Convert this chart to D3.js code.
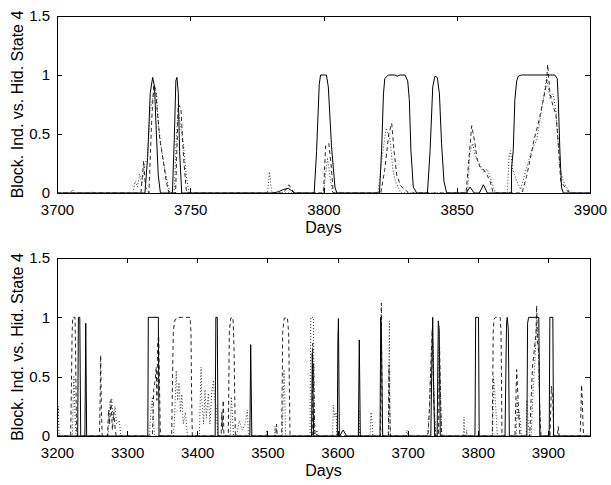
<!DOCTYPE html>
<html>
<head>
<meta charset="utf-8">
<script src="https://cdnjs.cloudflare.com/ajax/libs/d3/7.8.5/d3.min.js"></script>
<style>
  body { margin: 0; background: #fff; }
  text { font-family: "Liberation Sans", Arial, Helvetica, sans-serif; }
</style>
</head>
<body>
<div id="chart"></div>
<script>
// tick labels
var yTicks = [0, 0.5, 1, 1.5];
var topXTicks = [3700, 3750, 3800, 3850, 3900];
var botXTicks = [3200, 3300, 3400, 3500, 3600, 3700, 3800, 3900];

// top panel: days 3700-3900, [day, value]
var topSolid = [
  [3700,0],[3733,0],[3734,0.3],[3735,0.85],[3735.9,0.98],[3736.6,0.9],[3737.3,0.5],[3738,0.15],[3738.8,0],
  [3743.3,0],[3744,0.45],[3744.6,0.95],[3745,0.98],[3745.5,0.85],[3746,0.35],[3746.8,0],
  [3781,0],[3783,0.01],[3785,0.03],[3786.8,0.04],[3788,0.02],[3789,0],
  [3796.5,0],[3797.4,0.35],[3798.4,0.92],[3798.9,1],[3801.1,1],[3801.8,0.9],[3803,0.4],[3804.3,0.05],[3805,0],
  [3821,0],[3821.8,0.36],[3822.5,0.84],[3823,0.97],[3824.3,1],[3826.8,1],[3827.7,0.99],[3828.7,1],[3830.6,1],[3831.6,0.95],[3832.2,0.79],[3832.8,0.36],[3833.7,0.05],[3835,0],
  [3839,0],[3840,0.36],[3841,0.9],[3841.8,0.99],[3842.7,0.98],[3843.5,0.84],[3844.3,0.42],[3845.2,0.1],[3846.2,0],
  [3853.5,0],[3855,0.05],[3856.5,0],[3858.5,0],[3860,0.07],[3861.5,0],
  [3870.5,0],[3870.6,0.22],[3871.2,0.36],[3871.8,0.79],[3872.5,0.95],[3873.1,0.99],[3874.3,1],[3886.8,1],[3887.7,0.97],[3888.1,0.79],[3888.7,0.36],[3889.3,0.05],[3890,0],
  [3900,0]
];
var topDashed = [
  [3700,0],[3731.5,0],[3732.5,0.27],[3733.2,0.05],
  [3734.5,0],[3735.5,0.6],[3736.3,0.92],[3737,0.88],[3737.6,0.7],[3738.6,0.45],[3739.9,0.27],[3741,0.1],[3742,0],
  [3744.5,0],[3745.5,0.75],[3746.5,0.72],[3747.5,0.3],[3748.6,0],
  [3785,0],[3787,0.07],[3789,0],
  [3800,0],[3800.8,0.4],[3802,0.42],[3802.8,0.25],[3803.7,0],
  [3821.5,0],[3823,0.2],[3824.5,0.5],[3825.6,0.59],[3826.5,0.35],[3827.5,0.15],[3829,0.06],[3830.5,0.03],[3832,0],
  [3853.5,0],[3855.6,0.57],[3856.2,0.5],[3857,0.4],[3857.5,0.3],[3858.7,0.22],[3860,0.2],[3861.2,0.16],[3862.5,0.1],[3863.7,0],
  [3874.5,0],[3876.2,0.14],[3877.5,0.28],[3879,0.45],[3880.6,0.59],[3882.5,0.79],[3883.7,0.93],[3884.1,1.09],[3885,0.84],[3886.2,0.73],[3887.2,0.67],[3888,0.45],[3889,0.1],[3890.6,0.05],[3891.8,0.01],[3892.5,0.02],[3893.5,0],
  [3900,0]
];
var topDotted = [
  [3700,0],[3705,0],[3705.8,0.03],[3706.5,0],[3712,0],[3712.8,0.01],[3713.5,0],
  [3728.5,0],[3729.3,0.1],[3730.2,0.05],[3731,0.16],[3731.8,0.08],[3733,0.25],[3734,0.3],[3735,0.7],[3736.5,0.88],[3737.3,0.85],[3738,0.6],[3739,0.4],[3740.5,0.2],[3741.8,0.05],[3742.5,0],
  [3744,0],[3744.8,0.5],[3745.5,0.7],[3746.5,0.55],[3747.5,0.4],[3748.5,0.15],[3749.5,0],
  [3779,0],[3779.7,0.18],[3780.5,0.02],[3781,0],
  [3800,0],[3801.5,0.3],[3802.5,0.12],[3803.5,0],
  [3820.5,0],[3822,0.3],[3823.5,0.55],[3825,0.45],[3826,0.2],[3827,0.1],[3829,0],
  [3854,0],[3855,0.35],[3856,0.42],[3857,0.3],[3858.5,0.25],[3860,0.18],[3861.5,0.2],[3863,0.1],[3864.5,0],
  [3869,0],[3869.6,0.3],[3870.2,0.36],[3871,0.2],[3872.5,0.1],[3874,0.03],[3876,0.2],[3878,0.35],[3880,0.45],[3881.8,0.7],[3883.7,0.98],[3885,0.8],[3886.2,0.84],[3887.2,0.7],[3888.7,0.22],[3890,0.1],[3891.2,0.05],[3892.5,0],
  [3900,0]
];

// bottom panel: days 3200-3960
var botSolid = [
  [3200,0],[3229.5,0],[3230.5,1],[3232.5,1],[3233.8,0],
  [3239.8,0],[3241,0.95],[3242.3,0],
  [3329.5,0],[3330.2,1],[3344.5,1],[3345.5,0],
  [3425.5,0],[3426.5,1],[3428.5,1],[3429.6,0],
  [3475,0],[3476.2,0.77],[3477.8,0],
  [3563,0],[3564,0.7],[3565,0.4],[3566,0],
  [3599.7,0],[3600.5,0.81],[3601.3,0.99],[3602.6,0],[3603,0],[3608,0.05],[3613,0],
  [3629.7,0],[3631,0.81],[3632.5,0],
  [3660.6,0],[3661.6,1],[3662.5,0.9],[3663.5,0.4],[3664.4,0],
  [3733,0],[3734.5,0.6],[3735.7,1],[3737,0.4],[3738.5,0],
  [3742,0],[3743.7,0.97],[3745,0.9],[3746.5,0],
  [3796,0],[3797,1],[3801,1],[3802,0],
  [3838.8,0],[3841,0.95],[3842,1],[3843.5,0.9],[3845,0],
  [3870,0],[3871,0.95],[3872.5,1],[3887,1],[3888.5,0],
  [3901.8,0],[3902.8,1],[3907,1],[3908,0],
  [3960,0]
];
var botDashed = [
  [3200,0],[3219.5,0],[3220.5,0.4],[3221.5,0.85],[3222.4,1],[3225.7,1],[3226.5,0.7],[3227.5,0.2],[3228.5,0],
  [3260.5,0],[3261.5,0.3],[3262.3,0.68],[3263.3,0.2],[3264.5,0],
  [3272,0],[3273.5,0.22],[3275,0.1],[3277,0.3],[3279,0.05],[3281,0.2],[3283,0.05],[3284.5,0],
  [3336,0],[3338,0.4],[3340,0.47],[3341.5,0.58],[3342.5,0.3],[3343.5,0.78],[3345,0.85],[3346.5,0.3],[3347.5,0],
  [3363.5,0],[3365,0.58],[3365.9,0.89],[3368.3,0.98],[3373,1],[3389.7,1],[3391.1,0.87],[3392,0.3],[3393,0],
  [3434,0],[3435,0.2],[3436,0.05],[3437,0.3],[3438,0],
  [3444.3,0],[3445.7,0.87],[3447.5,0.99],[3451,1],[3452.5,0.72],[3454.3,0],
  [3512,0],[3513,0.1],[3514,0],
  [3520.4,0],[3521.8,0.87],[3523.7,0.99],[3528.5,1],[3530.3,0.87],[3532.3,0],
  [3564,0],[3564.5,0.78],[3565.2,0.39],[3566,0.61],[3567,0.2],[3568,0],
  [3661,0],[3662,0.7],[3662.5,1.12],[3663,0.6],[3664,0],
  [3672.5,0],[3673.4,0.6],[3674.5,0.2],[3675.5,0],
  [3729,0],[3731,0.22],[3733,0.58],[3735,0.9],[3736.5,0.5],[3738,0.2],[3739.5,0],
  [3744,0],[3745.5,0.75],[3747,0.3],[3748.5,0],
  [3820.7,0],[3822,0.87],[3823,0.98],[3825,1],[3832,1],[3833.2,0.86],[3834.5,0],
  [3853,0],[3855.4,0.56],[3857,0.36],[3858.5,0.19],[3860,0],
  [3874,0],[3876,0.3],[3878,0.58],[3880.5,0.72],[3883,0.87],[3884,1.1],[3885,0.8],[3887,0.7],[3888.5,0.2],[3890,0],
  [3903,0],[3905,0.42],[3907,0.3],[3908.5,0],
  [3913.5,0],[3914.8,0.08],[3916,0],
  [3946,0],[3947,0.2],[3948,0.43],[3949,0.3],[3950,0.1],[3951,0],
  [3960,0]
];
var botDotted = [
  [3200,0],[3201,0],[3202,0.25],[3203,0],
  [3222,0],[3223,0.3],[3224,0.5],[3225,0.3],[3226,0.13],[3227,0],
  [3273,0],[3275.6,0.3],[3278,0.32],[3280,0.15],[3282.7,0.25],[3285,0.1],[3288.9,0.13],[3291,0],
  [3332,0],[3333.5,0.19],[3336,0.33],[3338,0.1],[3339,0],
  [3366,0],[3368,0.2],[3370,0.55],[3372,0.3],[3374,0.45],[3376,0.2],[3378,0.35],[3380,0.1],[3383,0.2],[3386,0],
  [3403,0],[3405.4,0.58],[3406.5,0.3],[3409,0.1],[3411,0.39],[3413,0.15],[3415.8,0.36],[3418,0.1],[3420.6,0.36],[3423,0.47],[3425,0.3],[3427.7,0.22],[3429,0],
  [3447,0],[3448.5,0.33],[3450,0.2],[3451.5,0],
  [3456,0],[3460,0.13],[3464,0.05],[3468,0.1],[3471.4,0.22],[3473,0],
  [3498,0],[3499,0.05],[3500,0],[3510,0],[3511,0.08],[3512,0],
  [3521,0],[3523.7,0.56],[3525,0.3],[3526,0],
  [3560.8,0],[3561.8,1],[3565.6,1],[3567,0],[3570,0],[3570.5,0.05],[3571,0],
  [3593,0],[3594,0.26],[3596,0.16],[3598,0.2],[3599,0],
  [3630,0],[3630.6,0.22],[3631.5,0],
  [3646.5,0],[3647.7,0.2],[3649.6,0.1],[3650.5,0],
  [3672.5,0],[3673.9,0.97],[3675,0],
  [3698,0],[3699,0.05],[3700,0],
  [3728,0],[3729.5,0.08],[3731,0.22],[3732.5,0.5],[3734,0.75],[3736,0.8],[3738,0.3],[3740,0],
  [3742.5,0],[3744.5,0.9],[3746,0.5],[3748,0.1],[3749,0],
  [3779.5,0],[3780.3,0.16],[3781.5,0],[3783.5,0],[3784,0.05],[3785,0],
  [3821,0],[3822.5,0.5],[3824,0.4],[3826,0.2],[3828,0],
  [3855,0],[3856,0.3],[3857.5,0.15],[3859,0.2],[3861,0.1],[3862,0],
  [3869,0],[3870,0.3],[3872,0.1],[3874,0],
  [3876,0],[3879,0.4],[3882,0.7],[3884,0.95],[3886,0.8],[3888,0.3],[3890,0],
  [3960,0]
];

var svg = d3.select("#chart")
  .append("svg")
    .attr("width", 611)
    .attr("height", 485);

var panels = [
  {id: "top", left: 57, right: 590, top: 16, bottom: 193, xDomain: [3700, 3900], xTicks: topXTicks,
   series: [topSolid, topDashed, topDotted]},
  {id: "bot", left: 57, right: 590, top: 258, bottom: 436, xDomain: [3200, 3960], xTicks: botXTicks,
   series: [botSolid, botDashed, botDotted]}
];

var styles = [
  {dash: null, width: 1, color: "#000"},
  {dash: "4,3", width: 0.9, color: "#111"},
  {dash: "1,2", width: 0.9, color: "#222"}
];

panels.forEach(function(p) {
  var x = d3.scaleLinear().domain(p.xDomain).range([p.left, p.right]);
  var y = d3.scaleLinear().domain([0, 1.5]).range([p.bottom, p.top]);
  var g = svg.append("g");

  g.append("clipPath").attr("id", "clip-" + p.id)
    .append("rect")
      .attr("x", p.left).attr("y", p.top - 10)
      .attr("width", p.right - p.left).attr("height", p.bottom - p.top + 10);

  var line = d3.line()
    .x(function(d) { return x(d[0]); })
    .y(function(d) { return y(d[1]); });

  g.append("g").attr("clip-path", "url(#clip-" + p.id + ")")
    .selectAll("path")
    .data(p.series)
    .enter().append("path")
      .attr("d", line)
      .attr("fill", "none")
      .attr("stroke", function(d, i) { return styles[i].color; })
      .attr("stroke-width", function(d, i) { return styles[i].width; })
      .attr("stroke-dasharray", function(d, i) { return styles[i].dash; });

  // axes, matlab style (ticks inside, box)
  g.append("g")
    .attr("transform", "translate(0," + p.bottom + ")")
    .call(d3.axisBottom(x).tickValues(p.xTicks).tickSize(-5).tickSizeOuter(0).tickPadding(11).tickFormat(d3.format("d")));
  g.append("g")
    .attr("transform", "translate(0," + p.top + ")")
    .call(d3.axisTop(x).tickValues(p.xTicks).tickSize(-5).tickSizeOuter(0).tickFormat(""));
  g.append("g")
    .attr("transform", "translate(" + p.left + ",0)")
    .call(d3.axisLeft(y).tickValues(yTicks).tickSize(-5).tickSizeOuter(0).tickPadding(7).tickFormat(function(d) { return String(d); }));
  g.append("g")
    .attr("transform", "translate(" + p.right + ",0)")
    .call(d3.axisRight(y).tickValues(yTicks).tickSize(-5).tickSizeOuter(0).tickFormat(""));

  g.selectAll(".tick text").attr("font-size", 15).attr("fill", "#000").attr("font-family", null);
  g.selectAll(".domain, .tick line").attr("stroke", "#000").attr("shape-rendering", "crispEdges");

  g.append("text")
    .attr("x", (p.left + p.right) / 2)
    .attr("y", p.bottom + 40)
    .attr("text-anchor", "middle")
    .attr("font-size", 16)
    .text("Days");

  g.append("text")
    .attr("transform", "translate(23," + ((p.top + p.bottom) / 2) + ") rotate(-90)")
    .attr("text-anchor", "middle")
    .attr("font-size", 16)
    .text("Block. Ind. vs. Hid. State 4");
});
</script>
</body>
</html>
